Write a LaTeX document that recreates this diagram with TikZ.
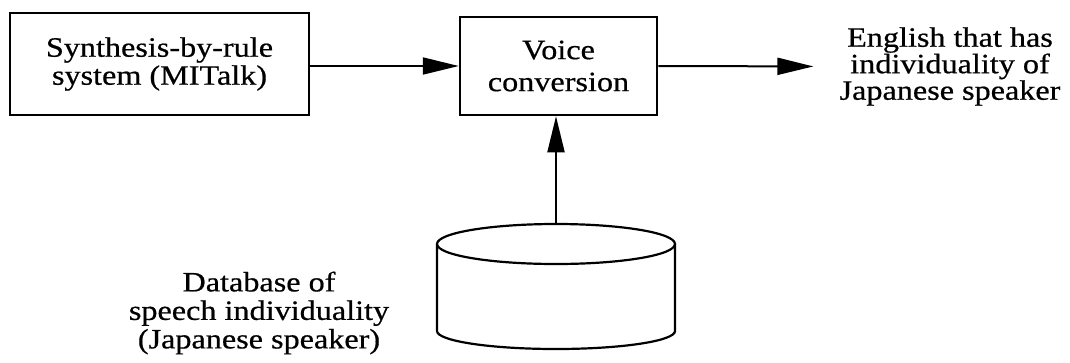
\documentclass[tikz,border=0pt]{standalone}
\usepackage{fontspec}
\setmainfont{Liberation Serif}[FakeStretch=1.15,FakeBold=0.6]
\usetikzlibrary{arrows.meta}
\begin{document}
\begin{tikzpicture}[x=1pt,y=-1pt,
  boxstyle/.style={draw,line width=2.5pt,inner sep=0pt,align=center},
  lbl/.style={inner sep=0pt,align=center},
  conn/.style={line width=2pt,-{Triangle[length=36pt,width=17pt]}},
  cyl/.style={line width=2.2pt}]
\useasboundingbox (0,0) rectangle (1070,362);
\node[boxstyle,minimum width=299pt,minimum height=102pt,
  font=\fontsize{28}{28}\selectfont] (b1) at (159.5,64)
  {\raisebox{3pt}{\parbox{280pt}{\centering Synthesis-by-rule\\ system (MITalk)}}};
\node[boxstyle,minimum width=197pt,minimum height=98pt,
  font=\fontsize{28}{32}\selectfont] (b2) at (558.5,66)
  {\raisebox{2pt}{\parbox{180pt}{\centering Voice\\ conversion}}};
\node[lbl,font=\fontsize{28}{26.5}\selectfont] (out) at (950,66.5)
  {English that has\\ individuality of\\ Japanese speaker};
\node[lbl,font=\fontsize{28}{28.5}\selectfont] (dbl) at (259,313)
  {Database of\\ speech individuality\\ (Japanese speaker)};
\node[inner sep=0pt,minimum width=238pt,minimum height=125pt] (db) at (556,286.5) {};
% cylinder
\draw[cyl] (556,244) ellipse [x radius=119, y radius=20];
\draw[cyl] (437,244) -- (437,331) arc[start angle=180,end angle=0,x radius=119,y radius=18] -- (675,244);
% connectors
\draw[conn] (b2.west -| b1.east) -- (b2.west);
\draw[conn,shorten >=26pt] (b2.east) -- (out.west);
\draw[conn] (db.north) -- (db.north |- b2.south);
\end{tikzpicture}
\end{document}
